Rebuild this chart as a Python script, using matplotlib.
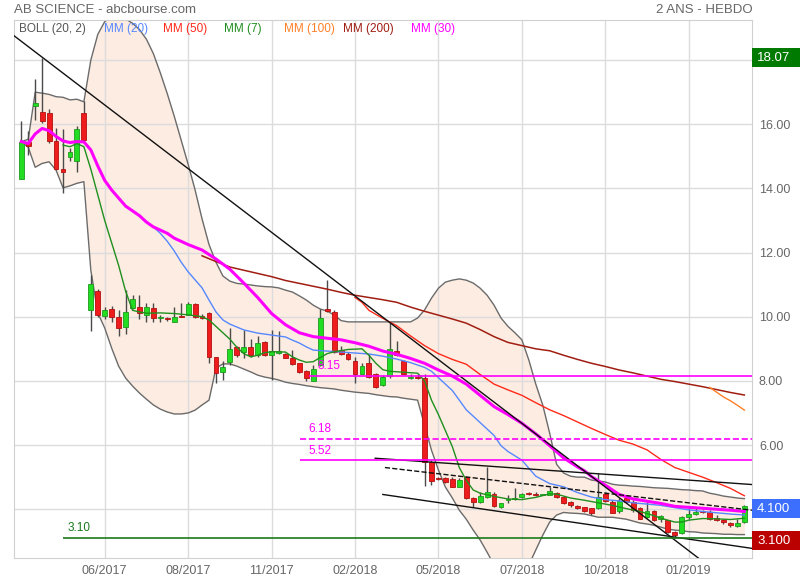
import numpy as np
import matplotlib
matplotlib.use('Agg')
import matplotlib.pyplot as plt
from matplotlib.patches import Rectangle
from matplotlib.transforms import blended_transform_factory

plt.rcParams['font.family'] = ['Liberation Sans', 'DejaVu Sans']

# ---------------------------------------------------------------------------
# AB SCIENCE weekly candles (week 0 .. 104)
# ---------------------------------------------------------------------------
opens = [14.28, 15.46, 16.58, 16.39, 16.34, 15.48, 14.61, 14.99, 14.84, 16.35,
         10.21, 10.80, 10.02, 10.23, 10.00, 9.67, 10.26, 10.31, 10.05, 10.28,
         9.97, 9.93, 9.83, 10.03, 10.05, 10.39, 10.03, 10.11, 8.73, 8.27,
         8.60, 9.05, 8.91, 9.05, 8.81, 9.21, 8.81, 8.87, 8.84, 8.70,
         8.55, 8.31, 8.00, 8.49, 10.23, 10.16, 8.96, 8.84, 8.63, 8.23,
         8.55, 8.21, 7.87, 8.15, 8.93, 8.63, 8.08, 8.12, 8.08, 5.48,
         4.98, 4.98, 4.94, 4.70, 5.01, 4.36, 4.23, 4.37, 4.49, 4.06,
         4.30, 4.33, 4.37, 4.49, 4.49, 4.44, 4.44, 4.52, 4.37, 4.21,
         4.09, 4.07, 4.03, 4.03, 4.47, 4.21, 3.95, 4.34, 4.23, 4.03,
         3.76, 3.94, 3.69, 3.66, 3.30, 3.25, 3.76, 3.85, 3.93, 3.92,
         3.73, 3.66, 3.56, 3.48, 3.60]
highs = [16.10, 15.80, 17.41, 18.07, 16.47, 15.87, 15.85, 15.27, 15.95, 16.73,
         11.30, 10.85, 10.30, 10.33, 10.20, 10.83, 10.68, 10.68, 10.44, 10.42,
         10.05, 9.98, 10.29, 10.42, 10.45, 10.44, 10.10, 10.16, 8.75, 8.63,
         9.64, 9.10, 9.58, 9.30, 9.40, 9.23, 9.58, 9.55, 8.88, 8.95,
         8.56, 8.35, 8.50, 10.23, 11.14, 10.20, 9.10, 8.90, 8.75, 8.55,
         8.85, 8.25, 8.18, 9.84, 9.24, 8.65, 8.20, 8.23, 8.20, 5.53,
         5.00, 5.02, 5.00, 4.96, 5.03, 4.39, 4.54, 5.32, 4.54, 4.20,
         4.44, 4.65, 4.50, 4.54, 4.54, 4.48, 4.70, 4.55, 4.40, 4.25,
         4.12, 4.08, 4.05, 5.12, 4.54, 4.28, 4.34, 4.39, 4.28, 4.08,
         4.23, 3.97, 3.82, 3.68, 3.33, 3.78, 4.08, 4.08, 3.97, 3.97,
         3.82, 3.71, 3.61, 3.71, 4.12]
lows = [14.28, 15.04, 16.13, 16.03, 15.43, 14.57, 13.85, 14.84, 14.52, 15.45,
        9.56, 10.00, 9.92, 9.84, 9.40, 9.46, 10.24, 9.92, 9.84, 9.84,
        9.84, 9.87, 9.83, 9.99, 10.04, 9.95, 9.93, 8.55, 7.95, 8.03,
        8.49, 8.75, 8.70, 8.75, 8.75, 8.78, 8.03, 8.85, 8.70, 8.50,
        8.25, 8.00, 8.00, 8.45, 10.15, 8.86, 8.80, 8.65, 7.92, 8.20,
        8.08, 7.78, 7.85, 8.10, 8.78, 8.18, 8.05, 8.05, 4.72, 4.75,
        4.90, 4.83, 4.68, 4.68, 4.31, 4.06, 4.20, 4.34, 4.08, 4.04,
        4.18, 4.30, 4.36, 4.44, 4.40, 4.43, 4.43, 4.35, 4.16, 4.08,
        4.02, 3.90, 3.82, 4.02, 4.21, 3.87, 3.89, 4.18, 3.92, 3.69,
        3.74, 3.62, 3.61, 3.25, 3.10, 3.23, 3.71, 3.82, 3.87, 3.66,
        3.63, 3.55, 3.45, 3.45, 3.58]
closes = [15.46, 15.32, 16.65, 16.11, 15.49, 14.61, 14.50, 15.13, 15.84, 15.50,
          11.02, 10.07, 10.21, 10.00, 9.64, 10.16, 10.56, 10.11, 10.31, 9.95,
          10.00, 9.92, 10.00, 10.00, 10.39, 9.98, 9.95, 8.74, 8.25, 8.42,
          8.98, 8.81, 9.05, 8.81, 9.19, 8.81, 8.93, 8.93, 8.72, 8.52,
          8.28, 8.08, 8.36, 9.95, 10.18, 8.91, 8.84, 8.67, 8.21, 8.46,
          8.11, 7.80, 8.13, 8.98, 8.81, 8.21, 8.13, 8.10, 5.48, 4.89,
          4.93, 4.86, 4.70, 4.91, 4.34, 4.23, 4.41, 4.54, 4.10, 4.18,
          4.32, 4.34, 4.46, 4.48, 4.44, 4.47, 4.58, 4.37, 4.20, 4.13,
          4.04, 3.95, 3.87, 4.37, 4.25, 3.89, 4.26, 4.23, 3.97, 3.71,
          3.94, 3.66, 3.78, 3.30, 3.19, 3.76, 3.85, 3.92, 3.92, 3.69,
          3.66, 3.59, 3.50, 3.56, 4.10]

# Bollinger (20, 2)
boll_up = [15.46, 15.53, 17.00, 16.97, 16.93, 16.86, 16.84, 16.76, 16.78, 16.70,
           18.00, 18.80, 19.20, 19.35, 19.35, 19.28, 19.15, 18.95, 18.65, 18.20,
           17.60, 16.95, 16.25, 15.50, 14.75, 13.95, 13.05, 12.25, 11.70, 11.27,
           11.11, 11.04, 11.02, 10.99, 10.96, 10.94, 10.93, 10.90, 10.83, 10.77,
           10.65, 10.52, 10.36, 10.24, 10.18, 10.05, 9.88, 9.84, 9.84, 9.84,
           9.84, 9.84, 9.84, 9.84, 9.84, 9.84, 9.84, 9.96, 10.21, 10.58,
           10.89, 11.08, 11.14, 11.18, 11.14, 11.05, 10.89, 10.67, 10.36, 9.96,
           9.70, 9.50, 9.28, 8.65, 7.90, 7.25, 6.37, 5.40, 5.13, 5.03,
           5.00, 5.00, 4.91, 4.88, 4.85, 4.78, 4.75, 4.74, 4.72, 4.71,
           4.69, 4.67, 4.66, 4.65, 4.63, 4.61, 4.60, 4.58, 4.57, 4.50,
           4.46, 4.41, 4.38, 4.35, 4.33]
boll_low = [15.46, 15.28, 14.66, 14.78, 14.83, 14.57, 14.02, 14.08, 14.16, 14.21,
            11.45, 10.12, 9.65, 9.02, 8.46, 8.09, 7.84, 7.62, 7.43, 7.25,
            7.12, 7.03, 6.97, 6.97, 7.00, 7.09, 7.25, 7.40, 8.40, 8.53,
            8.53, 8.46, 8.37, 8.28, 8.18, 8.12, 8.08, 8.03, 7.96, 7.92,
            7.89, 7.85, 7.82, 7.79, 7.77, 7.75, 7.71, 7.68, 7.65, 7.63,
            7.61, 7.57, 7.54, 7.51, 7.50, 7.46, 7.43, 7.40, 6.62, 5.84,
            5.22, 4.69, 4.35, 3.97, 3.69, 3.35, 3.04, 2.66, 2.26, 1.95,
            1.79, 1.79, 1.95, 2.26, 2.73, 3.19, 3.60, 3.82, 3.90, 3.88,
            3.87, 3.85, 3.80, 3.75, 3.75, 3.75, 3.72, 3.69, 3.63, 3.57,
            3.54, 3.50, 3.44, 3.38, 3.35, 3.33, 3.30, 3.29, 3.26, 3.25,
            3.24, 3.22, 3.22, 3.21, 3.21]

# moving averages (week, value)
mm7_weeks = [6, 7, 8, 9, 10, 11, 12, 13, 14, 15, 16, 17, 18, 20, 22, 24, 26, 27, 28, 29,
             30, 31, 32, 33, 34, 35, 36, 38, 39, 40, 41, 42, 43, 44, 45, 47, 49, 50, 51, 52,
             53, 55, 57, 58, 59, 60, 61, 62, 63, 64, 65, 66, 68, 70, 72, 74, 76, 77, 79, 81,
             83, 85, 87, 89, 91, 92, 94, 95, 96, 98, 100, 102, 104]
mm7 = [15.35, 15.30, 15.40, 15.30, 14.60, 13.80, 13.00, 12.30, 11.60, 10.80, 10.20, 10.15, 10.11,
       10.12, 10.10, 10.06, 10.00, 9.90, 9.70, 9.50, 9.30, 9.05, 8.85, 8.75, 8.80, 8.88, 8.91,
       8.90, 8.75, 8.65, 8.58, 8.60, 8.73, 8.85, 8.91, 8.98, 9.00, 8.80, 8.55, 8.35, 8.30,
       8.27, 8.24, 8.00, 7.40, 6.95, 6.45, 5.95, 5.30, 4.90, 4.60, 4.50, 4.40, 4.32, 4.30,
       4.37, 4.48, 4.47, 4.35, 4.28, 4.20, 4.12, 4.02, 3.93, 3.80, 3.72, 3.60, 3.60, 3.66,
       3.71, 3.70, 3.68, 3.72]

mm20_weeks = [19, 20, 21, 22, 23, 24, 25, 26, 27, 28, 29, 30, 31, 32, 34, 36, 38, 39, 40, 41,
              42, 44, 46, 48, 50, 52, 54, 56, 58, 59, 60, 62, 63, 64, 66, 68, 69, 70, 72, 74,
              76, 78, 80, 82, 84, 86, 88, 90, 92, 94, 96, 98, 100, 102, 104]
mm20 = [12.80, 12.60, 12.35, 12.05, 11.70, 11.40, 11.15, 10.90, 10.52, 10.15, 9.90, 9.77,
        9.68, 9.59, 9.49, 9.43, 9.37, 9.27, 9.18, 9.06, 8.96, 8.93, 8.90, 8.87, 8.84, 8.77,
        8.68, 8.57, 8.42, 8.30, 8.10, 7.70, 7.40, 7.10, 6.70, 6.30, 5.98, 5.80, 5.53, 5.03,
        4.80, 4.70, 4.52, 4.38, 4.30, 4.26, 4.20, 4.16, 4.12, 4.05, 3.98, 3.93, 3.89, 3.85,
        3.82]

mm30_weeks = [0, 1, 2, 3, 4, 5, 6, 7, 8, 9, 10, 11, 12, 13, 14, 15, 16, 17, 18, 19,
              20, 21, 22, 23, 24, 26, 28, 30, 32, 34, 36, 38, 40, 42, 44, 46, 48, 50, 52, 54,
              56, 58, 60, 62, 64, 66, 68, 70, 72, 74, 76, 78, 80, 81, 82, 84, 86, 88, 90, 92,
              94, 96, 98, 100, 102, 104]
mm30 = [15.46, 15.40, 15.70, 15.87, 15.80, 15.62, 15.48, 15.43, 15.46, 15.45, 15.20, 14.70,
        14.25, 13.95, 13.70, 13.45, 13.30, 13.15, 12.95, 12.80, 12.70, 12.60, 12.45, 12.35,
        12.25, 12.08, 11.80, 11.48, 11.05, 10.60, 10.10, 9.75, 9.50, 9.38, 9.33, 9.28, 9.19,
        9.08, 8.93, 8.83, 8.70, 8.55, 8.34, 8.15, 7.90, 7.55, 7.20, 6.95, 6.68, 6.35, 5.98,
        5.60, 5.32, 5.20, 5.02, 4.75, 4.46, 4.32, 4.25, 4.18, 4.09, 4.06, 4.03, 4.00, 3.97,
        3.93]

mm50_weeks = [48, 49, 50, 52, 54, 56, 58, 60, 62, 64, 66, 68, 70, 72, 74, 76, 78, 80, 82, 84,
              86, 88, 90, 92, 94, 96, 98, 100, 102, 104]
mm50 = [10.60, 10.45, 10.20, 9.95, 9.72, 9.40, 9.10, 8.85, 8.67, 8.52, 8.20, 7.90, 7.72,
        7.55, 7.32, 7.10, 6.92, 6.72, 6.52, 6.33, 6.15, 6.03, 5.85, 5.55, 5.30, 5.15, 5.00,
        4.83, 4.65, 4.42]

mm100_weeks = [99, 100, 101, 102, 103, 104]
mm100 = [7.80, 7.65, 7.50, 7.38, 7.24, 7.09]

mm200_weeks = [26, 28, 30, 32, 34, 36, 38, 40, 42, 44, 46, 48, 50, 52, 54, 56, 58, 60, 62, 64,
               66, 68, 70, 72, 74, 76, 78, 80, 82, 84, 86, 88, 90, 92, 94, 96, 98, 100, 102, 104]
mm200 = [11.90, 11.72, 11.55, 11.45, 11.35, 11.25, 11.13, 11.04, 10.95, 10.86, 10.76, 10.67,
         10.60, 10.53, 10.45, 10.30, 10.17, 10.05, 9.93, 9.80, 9.60, 9.38, 9.20, 9.10, 9.00,
         8.94, 8.80, 8.67, 8.55, 8.45, 8.34, 8.25, 8.15, 8.05, 7.98, 7.90, 7.82, 7.73, 7.64,
         7.56]

tick_weeks = [12, 24, 36, 48, 60, 72, 84, 96]
tick_labels = ['06/2017', '08/2017', '11/2017', '02/2018', '05/2018', '07/2018', '10/2018', '01/2019']

# horizontal levels: value, first week
level_values = [8.15, 6.18, 5.52, 3.10]
level_start = [41.4, 40.1, 40.1, 6.0]

# trend lines: (week, price) -> (week, price)
trend_start = [(-1.05, 18.76), (50.9, 5.59), (52.3, 5.30), (52.0, 4.46)]
trend_end = [(97.8, 2.41), (105.1, 4.77), (105.1, 3.97), (105.1, 2.78)]

last_close = 4.100
year_high = 18.07
support = 3.100

# ---------------------------------------------------------------------------
fig = plt.figure(figsize=(8, 5.8), dpi=100)
ax = fig.add_axes([14 / 800, 1 - 558 / 580, 738 / 800, 538 / 580])
ax.set_xlim(-1.05, 105.1)
ax.set_ylim(2.48, 19.25)

weeks = np.arange(len(closes))

# bollinger band
ax.fill_between(weeks, boll_low, boll_up, color='#fdece1', lw=0, zorder=1)
ax.plot(weeks, boll_up, color='#6b6b6b', lw=1, zorder=2)
ax.plot(weeks, boll_low, color='#6b6b6b', lw=1, zorder=2)

# candles
o = np.array(opens)
c = np.array(closes)
up = c >= o
body_col = np.where(up, '#22dd22', '#ee1c1c')
edge_col = np.where(up, '#1d9a1d', '#b31010')
ax.vlines(weeks, lows, highs, color='#4a4a4a', lw=1, zorder=3)
ax.bar(weeks, np.maximum(np.abs(c - o), 0.03), bottom=np.minimum(o, c), width=0.7,
       color=body_col, edgecolor=edge_col, lw=0.6, zorder=3.5)

# moving averages
ax.plot(mm200_weeks, mm200, color='#a01d12', lw=1.1, zorder=4)
ax.plot(mm100_weeks, mm100, color='#ff7f27', lw=1, zorder=4)
ax.plot(mm50_weeks, mm50, color='#ff2a1a', lw=1, zorder=4)
ax.plot(mm20_weeks, mm20, color='#5588ff', lw=1, zorder=4)
ax.plot(mm7_weeks, mm7, color='#1f8f1f', lw=1, zorder=4.2)
ax.plot(mm30_weeks, mm30, color='#ff00ff', lw=2.2, zorder=4.5)

# trend lines
for (x0, y0), (x1, y1), ls in zip(trend_start, trend_end, ['-', '-', '--', '-']):
    ax.plot([x0, x1], [y0, y1], color='#111111', lw=1, ls=ls, zorder=5)

# levels
lev_colors = ['#ff00ff', '#ff00ff', '#ff00ff', '#1a7a1a']
lev_styles = ['-', '--', '-', '-']
for v, x0, col, ls in zip(level_values, level_start, lev_colors, lev_styles):
    ax.hlines(v, x0, 105.1, colors=col, linestyles=ls, lw=1.2, zorder=5)
    ax.text(x0 + (1.2 if v > 4 else 0.6), v + 0.12, '%.2f' % v, color=col,
            fontsize=8.5, va='bottom', ha='left', zorder=6)

# axes styling
ax.set_yticks(np.arange(4, 20, 2))
ax.set_yticklabels(['' if t in (4, 18) else '%.2f' % t for t in np.arange(4, 20, 2)])
ax.yaxis.tick_right()
ax.set_xticks(tick_weeks)
ax.set_xticklabels(tick_labels)
ax.tick_params(length=0, labelsize=9, labelcolor='#666666')
ax.tick_params(axis='y', pad=5)
ax.tick_params(axis='x', pad=5)
ax.grid(color='#dcdcdc', lw=1)
ax.set_axisbelow('line')
for s in ax.spines.values():
    s.set_color('#d0d0d0')

# value boxes on the right
tr = blended_transform_factory(ax.transAxes, ax.transData)
for val, txt, col in [(year_high, '18.07', '#007a00'), (last_close, '4.100', '#3d6fff'),
                      (support, '3.100', '#bb0000')]:
    yc = val if val != last_close else val - 0.08
    yc = yc if val != support else val - 0.08
    ax.add_patch(Rectangle((1.0, yc - 0.3), 48 / 738, 0.6, transform=tr,
                           facecolor=col, edgecolor='none', clip_on=False, zorder=10))
    ax.text(1.0 + 5 / 738, yc, txt, transform=tr, color='white', fontsize=9.5,
            va='center', ha='left', zorder=11, clip_on=False)

# header and legend
fig.text(14 / 800, 1 - 10 / 580, 'AB SCIENCE - abcbourse.com', color='#666666',
         fontsize=9.5, va='center', ha='left')
fig.text(753 / 800, 1 - 10 / 580, '2 ANS - HEBDO', color='#666666',
         fontsize=9.5, va='center', ha='right')
legend = [('BOLL (20, 2)', '#555555', 19), ('MM (20)', '#5588ff', 104),
          ('MM (50)', '#ff2a1a', 163), ('MM (7)', '#1f8f1f', 224),
          ('MM (100)', '#ff7f27', 284), ('MM (200)', '#a01d12', 343),
          ('MM (30)', '#ff00ff', 411)]
for txt, col, xp in legend:
    fig.text(xp / 800, 1 - 29 / 580, txt, color=col, fontsize=8.5, va='center', ha='left')

fig.savefig('out.png', dpi=100)
